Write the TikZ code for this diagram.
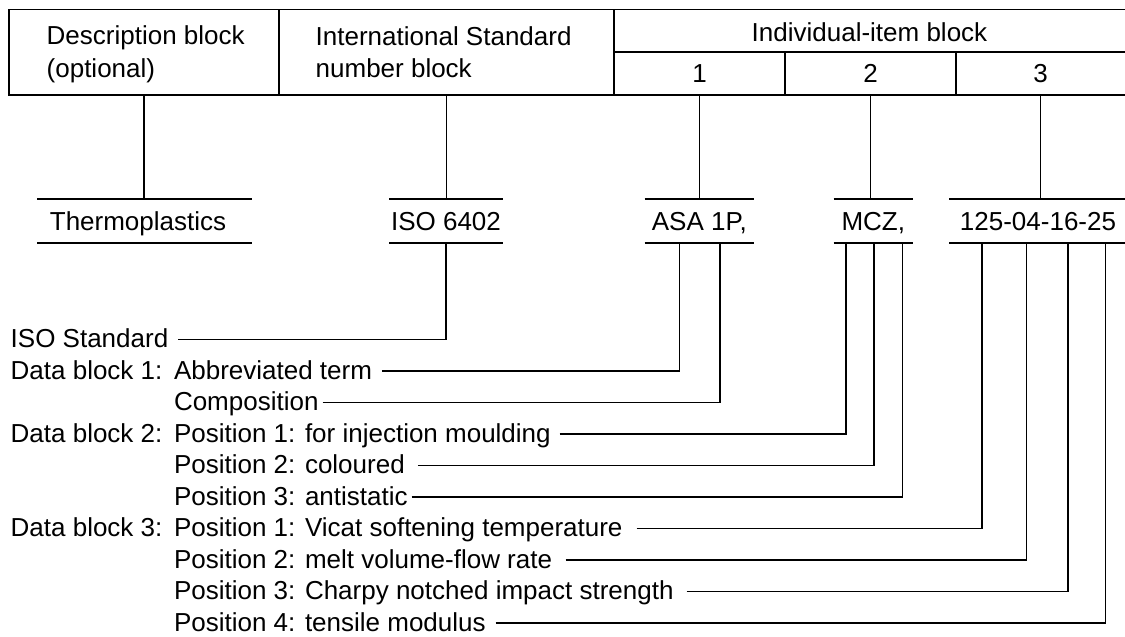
\documentclass[tikz,border=0pt]{standalone}
\usepackage{fontspec}
\setmainfont{Liberation Sans}
\begin{document}
\begin{tikzpicture}[x=1pt,y=-1pt,line width=1.4pt,
  every node/.style={font=\fontsize{26pt}{31pt}\selectfont},
  cellbox/.style={draw,inner sep=0pt,outer sep=0pt},
  hdr/.style={anchor=base west,inner sep=0pt},
  hdrc/.style={anchor=base,inner sep=0pt},
  valbox/.style={minimum height=44pt,inner sep=0pt,outer sep=0pt,text height=18.6pt,text depth=0pt},
  lbl/.style={anchor=base west,inner sep=0pt,outer sep=0pt,text height=16pt,text depth=0pt}]
\useasboundingbox[fill=white] (0,0) rectangle (1125,637);
% header table
\node[cellbox,minimum width=270pt,minimum height=85.5pt] (desc) at (144,52.25) {};
\node[cellbox,minimum width=335pt,minimum height=85.5pt] (isoc) at (446.5,52.25) {};
\node[cellbox,minimum width=521pt,minimum height=42.5pt] (itemc) at (874.5,30.75) {};
\node[cellbox,minimum width=171pt,minimum height=43pt] (c1) at (699.5,73.5) {};
\node[cellbox,minimum width=171pt,minimum height=43pt] (c2) at (870.5,73.5) {};
\node[cellbox,minimum width=179pt,minimum height=43pt] (c3) at (1045.5,73.5) {};
\node[hdr] (tdesc1) at (46,45) {Description block};
\node[hdr] (tdesc2) at (46,77) {(optional)};
\node[hdr] (tiso1) at (315,45.5) {International Standard};
\node[hdr] (tiso2) at (315,77.5) {number block};
\node[hdrc] (titem) at (869.5,41.7) {Individual-item block};
\node[hdrc] (t1) at (699.5,82) {1};
\node[hdrc] (t2) at (870.5,82) {2};
\node[hdrc] (t3) at (1040.5,82) {3};
% values
\node[valbox,minimum width=215pt] (thermo) at (144.5,221) {\hspace*{-13pt}Thermoplastics};
\node[valbox,minimum width=114pt] (iso) at (446,221) {ISO 6402};
\node[valbox,minimum width=109.4pt] (asa) at (699.3,221) {ASA 1P,};
\node[valbox,minimum width=79.5pt] (mcz) at (873.3,221) {MCZ,};
\node[valbox,minimum width=178pt] (num) at (1038,221) {125-04-16-25};
\foreach \n in {thermo,iso,asa,mcz,num}
  \draw (\n.north west) -- (\n.north east) (\n.south west) -- (\n.south east);
% header to values
\draw (desc.south) -- (desc.south |- thermo.north);
\draw (isoc.south) -- (isoc.south |- iso.north);
\draw (c1.south) -- (c1.south |- asa.north);
\draw (c2.south) -- (c2.south |- mcz.north);
\draw (t3 |- c3.south) -- (t3 |- num.north);
% labels
\node[lbl] (lstd) at (10.7,347.5) {ISO Standard};
\node[lbl] (pdb1) at (10.7,379) {Data block 1:};
\node[lbl] (labbr) at (174,379) {Abbreviated term};
\node[lbl] (lcomp) at (174,410.5) {Composition};
\node[lbl] (pdb2) at (10.7,442) {Data block 2:};
\node[lbl] (linj) at (174,442) {Position 1: for injection moulding};
\node[lbl] (lcol) at (174,473.5) {Position 2: coloured};
\node[lbl] (lanti) at (174,505) {Position 3: antistatic};
\node[lbl] (pdb3) at (10.7,536.5) {Data block 3:};
\node[lbl] (lvicat) at (174,536.5) {Position 1: Vicat softening temperature};
\node[lbl] (lmelt) at (174,568) {Position 2: melt volume-flow rate};
\node[lbl] (lcharpy) at (174,599.5) {Position 3: Charpy notched impact strength};
\node[lbl] (ltens) at (174,631) {Position 4: tensile modulus};
% connectors
\draw ([xshift=10pt]lstd.east) -| (iso.south);
\draw ([xshift=10pt]labbr.east) -| ([xshift=-20pt]asa.south);
\draw ([xshift=4pt]lcomp.east) -| ([xshift=20.5pt]asa.south);
\draw ([xshift=9pt]linj.east) -| ([xshift=-27.3pt]mcz.south);
\draw ([xshift=13pt]lcol.east) -| ([xshift=0.5pt]mcz.south);
\draw ([xshift=4pt]lanti.east) -| ([xshift=29pt]mcz.south);
\draw ([xshift=14pt]lvicat.east) -| ([xshift=-56pt]num.south);
\draw ([xshift=13.5pt]lmelt.east) -| ([xshift=-11.3pt]num.south);
\draw ([xshift=13pt]lcharpy.east) -| ([xshift=30pt]num.south);
\draw ([xshift=10pt]ltens.east) -| ([xshift=67.6pt]num.south);
\end{tikzpicture}
\end{document}
